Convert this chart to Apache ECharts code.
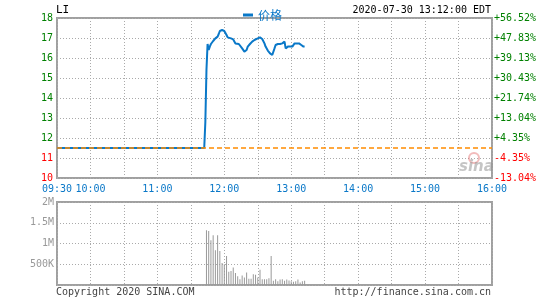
<!DOCTYPE html>
<html>
<head>
<meta charset="utf-8">
<script src="https://cdn.jsdelivr.net/npm/echarts@6/dist/echarts.min.js"></script>
<style>
html,body{margin:0;padding:0;background:#fff;}
#chart{width:545px;height:300px;}
</style>
</head>
<body>
<div id="chart"></div>
<script>
// ---- data ----
const stockName = 'LI';
const seriesName = '价格';
const stampText = '2020-07-30 13:12:00 EDT';
const prevClose = 11.5;
const xTickLabels = ['09:30', '10:00', '11:00', '12:00', '13:00', '14:00', '15:00', '16:00'];
const priceTimes = ['09:30', '11:42', '11:43', '11:44', '11:45', '11:46', '11:47', '11:48', '11:50', '11:52',
  '11:53', '11:54', '11:55', '11:56', '11:58', '12:00', '12:01', '12:02', '12:03', '12:04',
  '12:06', '12:08', '12:10', '12:13', '12:14', '12:16', '12:18', '12:19', '12:20', '12:21',
  '12:23', '12:25', '12:27', '12:28', '12:30', '12:32', '12:34', '12:36', '12:37', '12:39',
  '12:41', '12:43', '12:44', '12:45', '12:46', '12:48', '12:50', '12:52', '12:53', '12:54',
  '12:55', '12:57', '13:01', '13:02', '13:03', '13:07', '13:09', '13:11', '13:12'];
const priceValues = [11.50, 11.50, 12.80, 15.40, 16.70, 16.40, 16.57, 16.70, 16.85, 16.98,
  17.07, 17.07, 17.20, 17.35, 17.40, 17.35, 17.40, 17.15, 17.03, 16.98,
  16.98, 16.93, 16.73, 16.70, 16.70, 16.48, 16.32, 16.23, 16.40, 16.57,
  16.70, 16.82, 16.90, 16.95, 16.98, 17.03, 16.95, 16.73, 16.57, 16.37,
  16.23, 16.15, 16.23, 16.48, 16.65, 16.70, 16.70, 16.73, 16.73, 16.82,
  16.48, 16.57, 16.57, 16.65, 16.73, 16.73, 16.65, 16.57, 16.57];
const volumeTimes = ['11:44', '11:46', '11:48', '11:50', '11:52', '11:54', '11:56', '11:58',
  '12:00', '12:02', '12:04', '12:06', '12:08', '12:10', '12:12', '12:14', '12:16', '12:18', '12:20',
  '12:22', '12:24', '12:26', '12:28', '12:30', '12:32', '12:34', '12:36', '12:38', '12:40', '12:42',
  '12:44', '12:46', '12:48', '12:50', '12:52', '12:54', '12:56', '12:58',
  '13:00', '13:02', '13:04', '13:06', '13:08', '13:10', '13:12'];
const volumeValues = [1320000, 1300000, 1080000, 1200000, 840000, 1200000, 820000, 530000,
  500000, 700000, 320000, 340000, 420000, 290000, 210000, 140000, 230000, 180000, 300000,
  150000, 150000, 260000, 250000, 180000, 370000, 140000, 140000, 140000, 160000, 700000,
  100000, 140000, 90000, 130000, 140000, 100000, 130000, 110000,
  90000, 80000, 90000, 130000, 60000, 90000, 100000];

// ---- helpers ----
function toMin(t) { const p = t.split(':'); return (+p[0]) * 60 + (+p[1]) - 570; }
function minLabel(v) {
  const m = v + 570; const h = Math.floor(m / 60); const mm = m % 60;
  return (h < 10 ? '0' : '') + h + ':' + (mm < 10 ? '0' : '') + mm;
}
const BLUE = '#0a78c8';
const GREEN = '#008000';
const RED = '#ff0000';
const MONO = 'DejaVu Sans Mono';

const priceData = priceTimes.map((t, i) => [toMin(t), priceValues[i]]);
const volumeData = volumeTimes.map((t, i) => [toMin(t), volumeValues[i]]);

const gridSplit = { show: true, lineStyle: { color: '#aaa', type: [1, 2], width: 1 } };

const chart = echarts.init(document.getElementById('chart'), null, { renderer: 'canvas' });
chart.setOption({
  animation: false,
  backgroundColor: '#fff',
  textStyle: { fontFamily: MONO },
  legend: {
    data: [seriesName], left: 238, top: 4, icon: 'rect', itemWidth: 10, itemHeight: 3,
    textStyle: { color: BLUE, fontSize: 12, fontFamily: 'Noto Sans CJK SC' }
  },
  grid: [
    { left: 57, top: 18, width: 435, height: 160, show: true, borderColor: '#a0a0a0', borderWidth: 2, backgroundColor: '#fff' },
    { left: 57, top: 202, width: 435, height: 83, show: true, borderColor: '#a0a0a0', borderWidth: 2, backgroundColor: '#fff' }
  ],
  xAxis: [
    {
      type: 'value', gridIndex: 0, min: 0, max: 390, interval: 30,
      axisLine: { show: false }, axisTick: { show: false }, splitLine: gridSplit,
      axisLabel: {
        color: BLUE, fontSize: 10, fontFamily: MONO, margin: 6, showMinLabel: true, showMaxLabel: true,
        formatter: v => { const l = minLabel(v); return xTickLabels.indexOf(l) >= 0 ? l : ''; }
      }
    },
    {
      type: 'value', gridIndex: 1, min: 0, max: 390, interval: 30,
      axisLine: { show: false }, axisTick: { show: false }, splitLine: gridSplit,
      axisLabel: { show: false }
    }
  ],
  yAxis: [
    {
      type: 'value', gridIndex: 0, min: 10, max: 18, interval: 1, position: 'left',
      axisLine: { show: false }, axisTick: { show: false }, splitLine: gridSplit,
      axisLabel: {
        fontSize: 10, fontFamily: MONO, margin: 4,
        formatter: v => (v < prevClose ? '{r|' : '{g|') + v + '}',
        rich: { g: { color: GREEN, fontSize: 10, fontFamily: MONO }, r: { color: RED, fontSize: 10, fontFamily: MONO } }
      }
    },
    {
      type: 'value', gridIndex: 0, min: 10, max: 18, interval: 1, position: 'right',
      axisLine: { show: false }, axisTick: { show: false }, splitLine: { show: false },
      axisLabel: {
        fontSize: 10, fontFamily: MONO, margin: 2,
        formatter: v => {
          const p = (v - prevClose) / prevClose * 100;
          return p >= 0 ? '{g|+' + p.toFixed(2) + '%}' : '{r|' + p.toFixed(2) + '%}';
        },
        rich: { g: { color: GREEN, fontSize: 10, fontFamily: MONO }, r: { color: RED, fontSize: 10, fontFamily: MONO } }
      }
    },
    {
      type: 'value', gridIndex: 1, min: 0, max: 2000000, interval: 500000,
      axisLine: { show: false }, axisTick: { show: false }, splitLine: gridSplit,
      axisLabel: {
        color: '#999', fontSize: 10, fontFamily: MONO, margin: 3,
        formatter: v => v === 0 ? '' : (v >= 1000000 ? (v / 1000000) + 'M' : (v / 1000) + 'K')
      }
    }
  ],
  series: [
    {
      name: seriesName, type: 'line', xAxisIndex: 0, yAxisIndex: 0, data: priceData,
      showSymbol: false, symbol: 'none', lineStyle: { color: BLUE, width: 2 }, itemStyle: { color: BLUE },
      z: 3,
      markLine: {
        silent: true, symbol: 'none', label: { show: false },
        lineStyle: { color: '#ff8c00', type: [5, 3], width: 1.5 },
        data: [{ yAxis: prevClose }]
      }
    },
    {
      name: 'volume', type: 'bar', xAxisIndex: 1, yAxisIndex: 2, data: volumeData,
      barWidth: 1, itemStyle: { color: '#999' }
    }
  ],
  graphic: [
    { type: 'text', left: 56, top: 5, style: { text: stockName, font: '11px "DejaVu Sans Mono"', fill: '#000' } },
    { type: 'text', right: 54, top: 5, style: { text: stampText, font: '10px "DejaVu Sans Mono"', fill: '#000' } },
    { type: 'text', left: 56, top: 287, style: { text: 'Copyright 2020 SINA.COM', font: '10px "DejaVu Sans Mono"', fill: '#444' } },
    { type: 'text', right: 54, top: 287, style: { text: 'http://finance.sina.com.cn', font: '10px "DejaVu Sans Mono"', fill: '#444' } },
    { type: 'circle', shape: { cx: 474, cy: 158, r: 5 }, style: { fill: 'none', stroke: 'rgba(230,120,120,0.5)', lineWidth: 2 }, z: 1 },
    { type: 'text', left: 459, top: 160, style: { text: 'sina', font: 'italic bold 15px "DejaVu Sans"', fill: 'rgba(150,150,150,0.55)' }, z: 1 }
  ]
});
</script>
</body>
</html>
